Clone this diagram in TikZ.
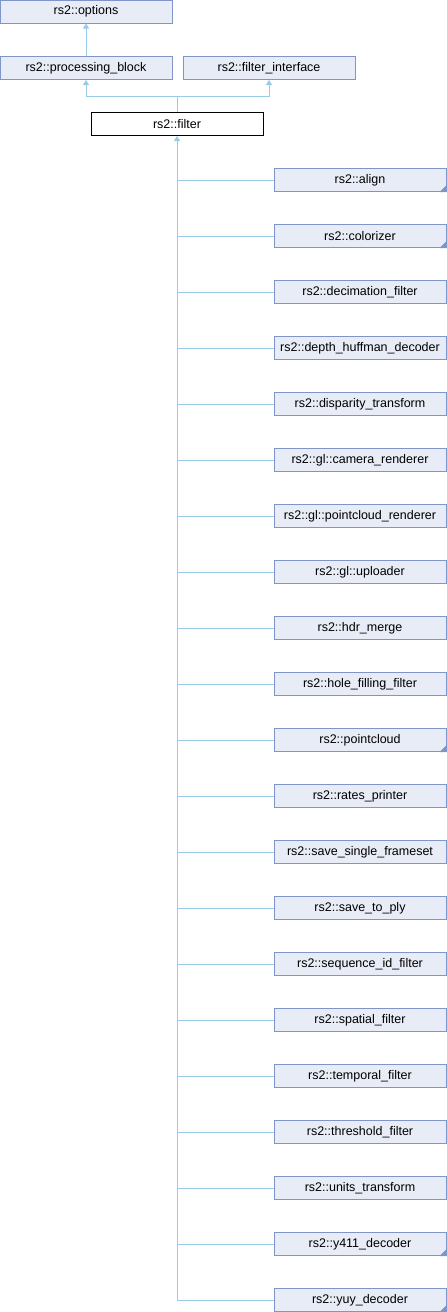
\documentclass[tikz,border=0pt]{standalone}
\usepackage{fontspec}
\setmainfont{Liberation Sans}
\usepackage{xcolor}
\usepackage{tikz}
\usetikzlibrary{positioning,arrows.meta}

\definecolor{boxfill}{HTML}{E8ECF6}
\definecolor{boxline}{HTML}{7F95C9}
\definecolor{edgeblue}{HTML}{97CBE8}

\begin{document}
\begin{tikzpicture}[
            x=1pt, y=1pt,
            classbox/.style={rectangle, draw=boxline, fill=boxfill, line width=1pt, minimum width=172pt, minimum height=23pt, inner sep=0pt, font=\fontsize{12.5}{15}\selectfont},
            thisbox/.style={classbox, draw=black, fill=white},
            edge/.style={draw=edgeblue, line width=1pt},
            inherit/.style={edge, -{Triangle[length=5pt,width=6pt]}},
            more/.style={fill=boxline}
        ]
            \useasboundingbox (0,0) rectangle (447,-1312);
            % Bases
            \node[classbox] (opts) at (86,-11.5) {rs2::options};
            \node[classbox] (pblock) at (86,-68) {rs2::processing\_block};
            \node[classbox] (finter) at (269,-68) {rs2::filter\_interface};
            \node[thisbox] (filter) at (177,-124) {rs2::filter};
            \coordinate (merge) at (177,-96);
            % Derived
            \begin{scope}[every node/.style={classbox}]
                \node (align) at (360,-180) {rs2::align};
                \node (colorizer) at (360,-236) {rs2::colorizer};
                \node (decim) at (360,-292) {rs2::decimation\_filter};
                \node (huffman) at (360,-348) {rs2::depth\_huffman\_decoder};
                \node (disparity) at (360,-404) {rs2::disparity\_transform};
                \node (camrend) at (360,-460) {rs2::gl::camera\_renderer};
                \node (pcrend) at (360,-516) {rs2::gl::pointcloud\_renderer};
                \node (uploader) at (360,-572) {rs2::gl::uploader};
                \node (hdr) at (360,-628) {rs2::hdr\_merge};
                \node (hole) at (360,-684) {rs2::hole\_filling\_filter};
                \node (pointcloud) at (360,-740) {rs2::pointcloud};
                \node (rates) at (360,-796) {rs2::rates\_printer};
                \node (savefs) at (360,-852) {rs2::save\_single\_frameset};
                \node (saveply) at (360,-908) {rs2::save\_to\_ply};
                \node (seqid) at (360,-964) {rs2::sequence\_id\_filter};
                \node (spatial) at (360,-1020) {rs2::spatial\_filter};
                \node (temporal) at (360,-1076) {rs2::temporal\_filter};
                \node (thresh) at (360,-1132) {rs2::threshold\_filter};
                \node (units) at (360,-1188) {rs2::units\_transform};
                \node (yfour) at (360,-1244) {rs2::y411\_decoder};
                \node (yuy) at (360,-1300) {rs2::yuy\_decoder};
            \end{scope}
            % Marks for classes with more derived classes
            \fill[more] (align.south east) -- ++(-7,0) -- ++(7,7) -- cycle;
            \fill[more] (colorizer.south east) -- ++(-7,0) -- ++(7,7) -- cycle;
            \fill[more] (pointcloud.south east) -- ++(-7,0) -- ++(7,7) -- cycle;
            \fill[more] (yfour.south east) -- ++(-7,0) -- ++(7,7) -- cycle;
            \fill[more] (yuy.south east) -- ++(-7,0) -- ++(7,7) -- cycle;
            % Edges
            \draw[inherit] (pblock) -- (opts);
            \draw[inherit] (filter.north) -- (merge) -| (pblock.south);
            \draw[inherit] (merge) -| (finter.south);
            \draw[inherit] (yuy.west -| filter.south) -- (filter.south);
            \draw[edge] (align.west) -- (align.west -| filter.south);
            \draw[edge] (colorizer.west) -- (colorizer.west -| filter.south);
            \draw[edge] (decim.west) -- (decim.west -| filter.south);
            \draw[edge] (huffman.west) -- (huffman.west -| filter.south);
            \draw[edge] (disparity.west) -- (disparity.west -| filter.south);
            \draw[edge] (camrend.west) -- (camrend.west -| filter.south);
            \draw[edge] (pcrend.west) -- (pcrend.west -| filter.south);
            \draw[edge] (uploader.west) -- (uploader.west -| filter.south);
            \draw[edge] (hdr.west) -- (hdr.west -| filter.south);
            \draw[edge] (hole.west) -- (hole.west -| filter.south);
            \draw[edge] (pointcloud.west) -- (pointcloud.west -| filter.south);
            \draw[edge] (rates.west) -- (rates.west -| filter.south);
            \draw[edge] (savefs.west) -- (savefs.west -| filter.south);
            \draw[edge] (saveply.west) -- (saveply.west -| filter.south);
            \draw[edge] (seqid.west) -- (seqid.west -| filter.south);
            \draw[edge] (spatial.west) -- (spatial.west -| filter.south);
            \draw[edge] (temporal.west) -- (temporal.west -| filter.south);
            \draw[edge] (thresh.west) -- (thresh.west -| filter.south);
            \draw[edge] (units.west) -- (units.west -| filter.south);
            \draw[edge] (yfour.west) -- (yfour.west -| filter.south);
            \draw[edge] (yuy.west) -- (yuy.west -| filter.south);
        \end{tikzpicture}
\end{document}
